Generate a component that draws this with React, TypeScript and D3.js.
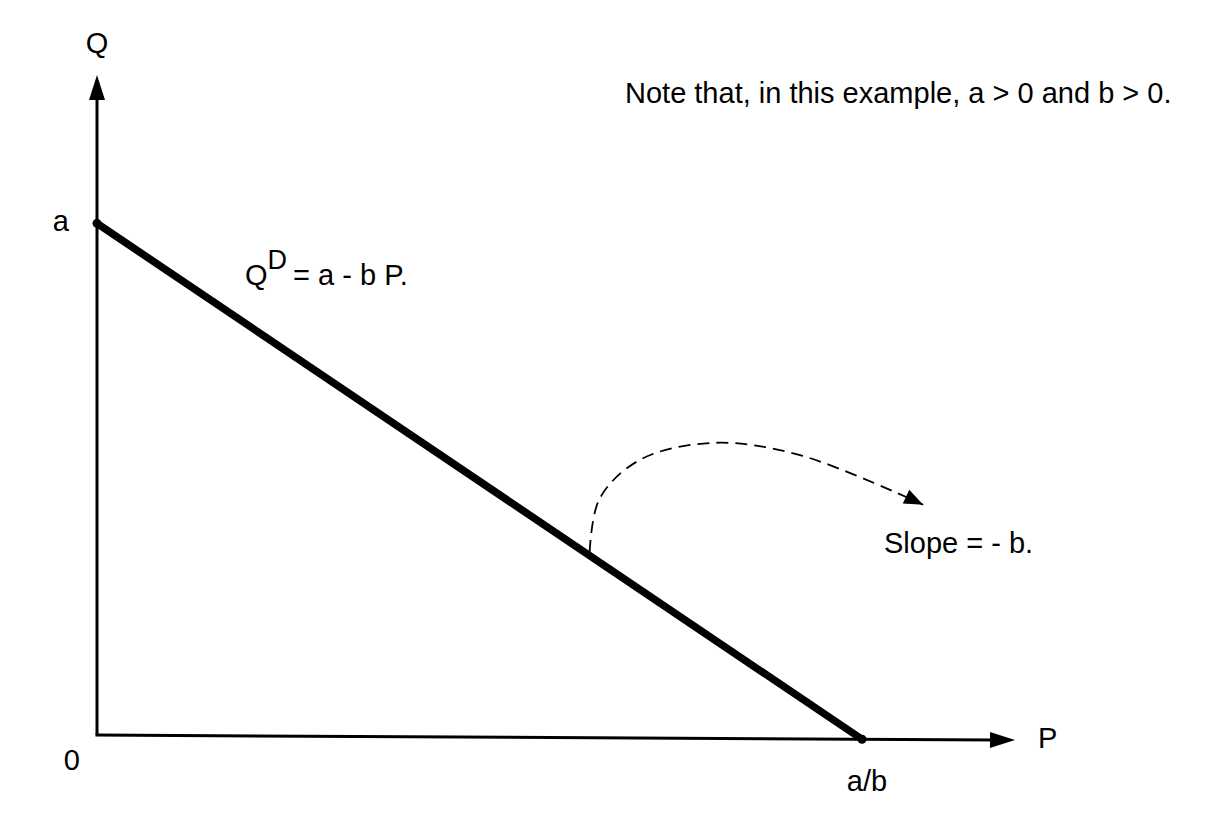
import * as d3 from 'd3';
import React from 'react';

// demand curve Q = a - b P, drawn in abstract units
const A = 1;
const B = 1;
const P_MAX = 1.2;
const Q_MAX = 1.29;
// the horizontal axis in the reference sags a little to the right
const AXIS_SAG = -0.01;

// dashed pointer from the line to the slope note (P, Q)
const pointerP = [0.644, 0.657, 0.71, 0.805, 0.919, 1.08];
const pointerQ = [0.358, 0.462, 0.538, 0.571, 0.547, 0.45];

const W = 1222;
const H = 817;
const FONT = '"Liberation Sans", Arial, Helvetica, sans-serif';

type Pt = [number, number];

function arrowHead(tip: Pt, from: Pt, len: number, half: number) {
  const dx = tip[0] - from[0];
  const dy = tip[1] - from[1];
  const d = Math.hypot(dx, dy);
  const ux = dx / d, uy = dy / d;
  const bx = tip[0] - ux * len, by = tip[1] - uy * len;
  const p = d3.path();
  p.moveTo(tip[0], tip[1]);
  p.lineTo(bx - uy * half, by + ux * half);
  p.lineTo(bx + uy * half, by - ux * half);
  p.closePath();
  return p.toString();
}

export default function App() {
  const x = d3.scaleLinear().domain([0, P_MAX]).range([97, 1015]);
  const y = d3.scaleLinear().domain([0, Q_MAX]).range([735, 75]);

  const origin: Pt = [x(0), y(0)];
  const yTop: Pt = [x(0), y(Q_MAX)];
  const xEnd: Pt = [x(P_MAX), y(AXIS_SAG)];
  const pInt = A / B;
  const demandStart: Pt = [x(0), y(A)];
  const demandEnd: Pt = [x(pInt), y((AXIS_SAG * pInt) / P_MAX)];

  const pts: Pt[] = pointerP.map((p, i) => [x(p), y(pointerQ[i])]);
  const curve = d3.line<Pt>().x(d => d[0]).y(d => d[1]).curve(d3.curveCatmullRom.alpha(0.5));
  const last = pts[pts.length - 1];
  const tangentFrom: Pt = [last[0] - 40, last[1] - 19];

  const ts = { fontFamily: FONT, fontSize: 29, fill: '#000' } as const;

  return (
    <svg width={W} height={H} style={{ position: 'absolute', left: 0, top: 0, background: '#fff' }}>
      {/* axes */}
      <line x1={origin[0]} y1={origin[1]} x2={yTop[0]} y2={yTop[1] + 20} stroke="#000" strokeWidth={3} />
      <path d={arrowHead(yTop, origin, 25, 8)} fill="#000" />
      <line x1={origin[0] - 1.5} y1={origin[1]} x2={xEnd[0] - 20} y2={xEnd[1]} stroke="#000" strokeWidth={3} />
      <path d={arrowHead(xEnd, origin, 25, 8)} fill="#000" />

      {/* demand line */}
      <line x1={demandStart[0]} y1={demandStart[1]} x2={demandEnd[0]} y2={demandEnd[1]} stroke="#000" strokeWidth={7.5} />
      <circle cx={demandStart[0]} cy={demandStart[1]} r={4.5} fill="#000" />
      <circle cx={demandEnd[0]} cy={demandEnd[1]} r={4.5} fill="#000" />

      {/* slope pointer */}
      <path d={curve(pts) ?? ''} fill="none" stroke="#000" strokeWidth={1.8} strokeDasharray="12 7" />
      <path d={arrowHead(last, tangentFrom, 19, 7.5)} fill="#000" />

      {/* labels */}
      <text x={x(0)} y={y(Q_MAX) - 22} textAnchor="middle" {...ts}>Q</text>
      <text x={x(0) - 28} y={y(A) + 8} textAnchor="end" {...ts}>a</text>
      <text x={x(0) - 17} y={origin[1] + 35} textAnchor="end" {...ts}>0</text>
      <text x={xEnd[0] + 23} y={xEnd[1] + 8} {...ts}>P</text>
      <text x={demandEnd[0] + 5} y={demandEnd[1] + 52} textAnchor="middle" {...ts}>a/b</text>
      <text x={245} y={285} {...ts}>
        Q<tspan dy={-16} fontSize={27}>D</tspan><tspan dy={16} dx={6}>= a - b P.</tspan>
      </text>
      <text x={884} y={553} {...ts}>Slope = - b.</text>
      <text x={625} y={103} {...ts}>Note that, in this example, a &gt; 0 and b &gt; 0.</text>
    </svg>
  );
}
